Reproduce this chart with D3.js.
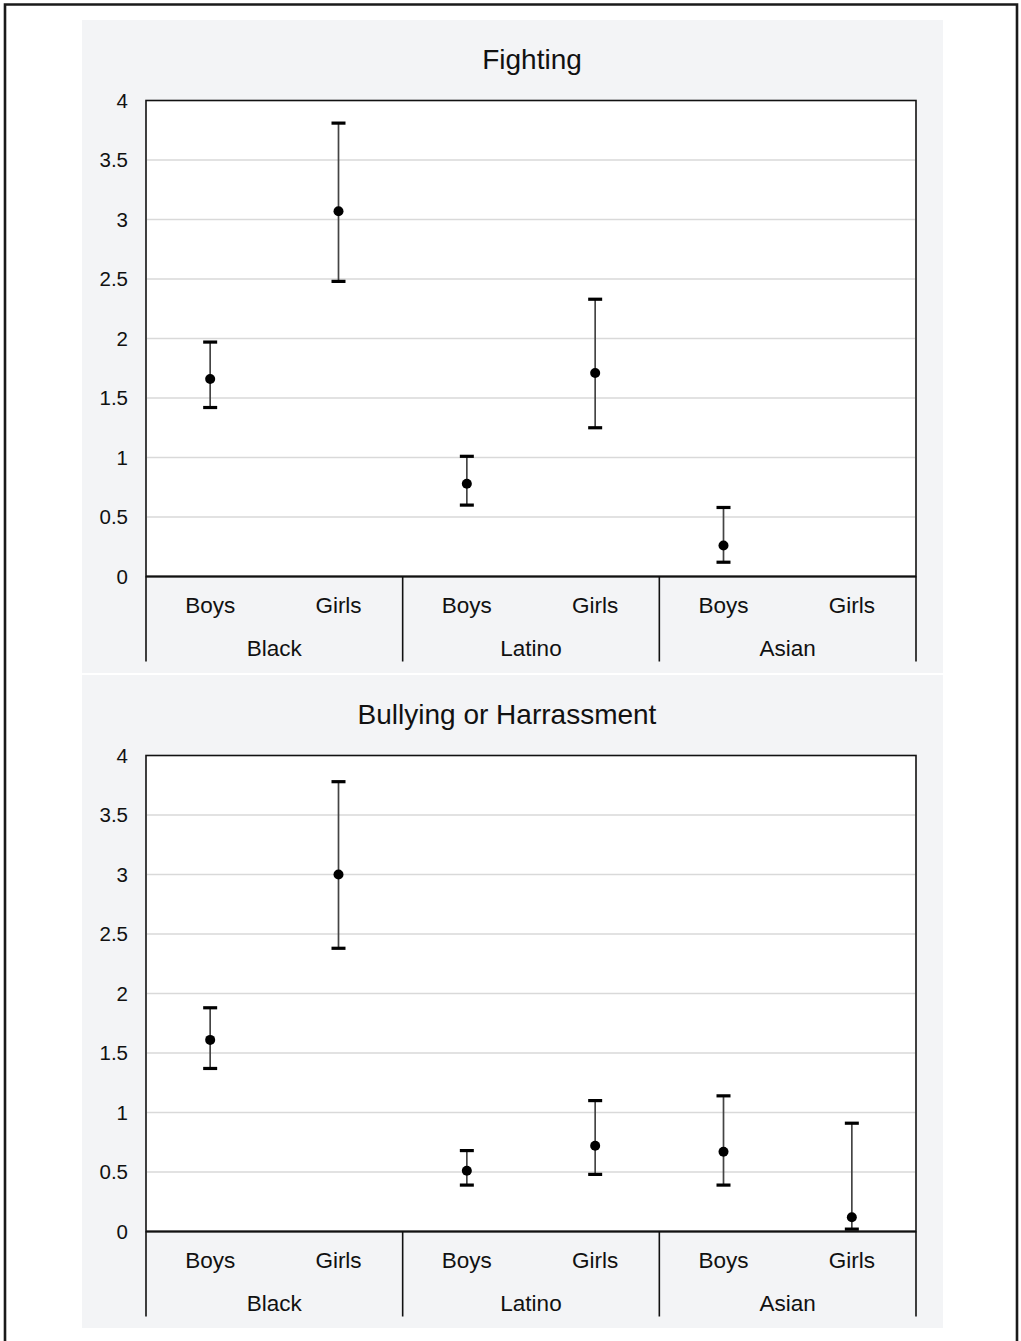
<!DOCTYPE html>
<html><head><meta charset="utf-8">
<script src="https://cdn.jsdelivr.net/npm/d3@7"></script>
<style>
html,body{margin:0;padding:0;background:#fff;}
svg{display:block;font-family:"Liberation Sans",Arial,sans-serif;}
</style></head>
<body>
<svg id="chart" width="1021" height="1341"></svg>
<script>
const groups = ["Black", "Latino", "Asian"];
const sexes = ["Boys", "Girls"];
const yTicks = [0, 0.5, 1, 1.5, 2, 2.5, 3, 3.5, 4];

const fightingTitle = "Fighting";
const fightingMean = [1.66, 3.07, 0.78, 1.71, 0.26, null];
const fightingLow  = [1.42, 2.48, 0.60, 1.25, 0.12, null];
const fightingHigh = [1.97, 3.81, 1.01, 2.33, 0.58, null];

const bullyingTitle = "Bullying or Harrassment";
const bullyingMean = [1.61, 3.00, 0.51, 0.72, 0.67, 0.12];
const bullyingLow  = [1.37, 2.38, 0.39, 0.48, 0.39, 0.02];
const bullyingHigh = [1.88, 3.78, 0.68, 1.10, 1.14, 0.91];

const svg = d3.select("#chart");

// outer frame (left, top, right)
svg.append("path")
  .attr("d", "M5,1341 V4.5 H1017 V1341")
  .attr("fill", "none").attr("stroke", "#1a1a1a").attr("stroke-width", 2.6);

const keys = [];
groups.forEach(g => sexes.forEach(s => keys.push(g + "|" + s)));

function panel(top, bottom, title, titleX, mean, low, high) {
  const g = svg.append("g");
  g.append("rect").attr("x", 82).attr("y", top).attr("width", 861).attr("height", bottom - top)
    .attr("fill", "#f3f4f6");

  const plotTop = top + 80.5, plotBottom = top + 556.5;
  const x = d3.scaleBand().domain(keys).range([146, 916]).padding(0);
  const xg = d3.scaleBand().domain(groups).range([146, 916]).padding(0);
  const y = d3.scaleLinear().domain([0, 4]).range([plotBottom, plotTop]);

  g.append("rect").attr("x", 146).attr("y", plotTop).attr("width", 770).attr("height", plotBottom - plotTop)
    .attr("fill", "#fff");

  // gridlines
  g.selectAll(".grid").data(yTicks.filter(t => t > 0 && t < 4)).enter().append("line")
    .attr("x1", 147).attr("x2", 915)
    .attr("y1", d => y(d)).attr("y2", d => y(d))
    .attr("stroke", "#d9d9d9").attr("stroke-width", 1.5);

  g.append("rect").attr("x", 146).attr("y", plotTop).attr("width", 770).attr("height", plotBottom - plotTop)
    .attr("fill", "none").attr("stroke", "#111").attr("stroke-width", 1.6);
  g.append("line").attr("x1", 146).attr("x2", 916).attr("y1", y(0)).attr("y2", y(0))
    .attr("stroke", "#111").attr("stroke-width", 2);

  // y axis
  const ya = g.append("g").attr("transform", "translate(146,0)")
    .call(d3.axisLeft(y).tickValues(yTicks).tickSize(0).tickPadding(18).tickFormat(d3.format("~g")));
  ya.select(".domain").remove();
  ya.selectAll("text").attr("font-size", 20.5).attr("fill", "#111")
    .attr("font-family", "'Liberation Sans',Arial,sans-serif");

  // x category labels
  const xa = g.append("g").attr("transform", `translate(0,${plotBottom})`)
    .call(d3.axisBottom(x).tickSize(0).tickPadding(0).tickFormat(k => k.split("|")[1]));
  xa.select(".domain").remove();
  xa.selectAll("text").attr("font-size", 22.5).attr("fill", "#111").attr("dy", null).attr("y", 36.5)
    .attr("font-family", "'Liberation Sans',Arial,sans-serif");

  g.selectAll(".glab").data(groups).enter().append("text")
    .attr("x", d => xg(d) + xg.bandwidth() / 2).attr("y", plotBottom + 79)
    .attr("text-anchor", "middle").attr("font-size", 22.5).attr("fill", "#111")
    .text(d => d);

  // group separators
  const seps = groups.map(d => xg(d)).concat([xg.range()[1]]);
  g.selectAll(".sep").data(seps).enter().append("line")
    .attr("x1", d => d).attr("x2", d => d)
    .attr("y1", plotBottom).attr("y2", plotBottom + 85)
    .attr("stroke", "#111").attr("stroke-width", 1.6);

  // title
  g.append("text").attr("x", titleX).attr("y", top + 49).attr("text-anchor", "middle")
    .attr("font-size", 28).attr("fill", "#111").text(title);

  // error bars
  const data = keys.map((k, i) => ({k, m: mean[i], lo: low[i], hi: high[i]})).filter(d => d.m != null);
  const cx = d => x(d.k) + x.bandwidth() / 2;
  g.selectAll(".eb").data(data).enter().append("line")
    .attr("x1", cx).attr("x2", cx).attr("y1", d => y(d.lo)).attr("y2", d => y(d.hi))
    .attr("stroke", "#444").attr("stroke-width", 1.7);
  ["lo", "hi"].forEach(f => {
    g.selectAll(".cap" + f).data(data).enter().append("line")
      .attr("x1", d => cx(d) - 7).attr("x2", d => cx(d) + 7)
      .attr("y1", d => y(d[f])).attr("y2", d => y(d[f]))
      .attr("stroke", "#000").attr("stroke-width", 3.2);
  });
  g.selectAll(".pt").data(data).enter().append("circle")
    .attr("cx", cx).attr("cy", d => y(d.m)).attr("r", 5).attr("fill", "#000");
}

panel(20, 673, fightingTitle, 532, fightingMean, fightingLow, fightingHigh);
panel(675, 1328, bullyingTitle, 507, bullyingMean, bullyingLow, bullyingHigh);
</script>
</body></html>
